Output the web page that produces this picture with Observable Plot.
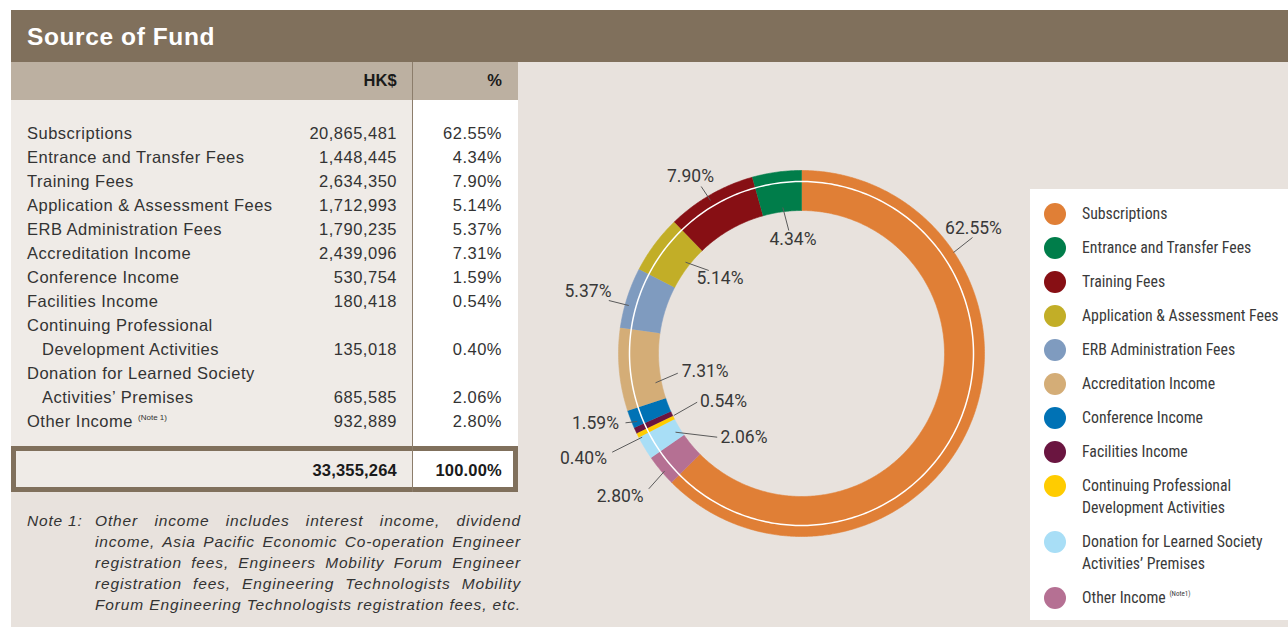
<!DOCTYPE html>
<html><head><meta charset="utf-8">
<script src="https://cdn.jsdelivr.net/npm/d3@7"></script>
<script src="https://cdn.jsdelivr.net/npm/@observablehq/plot@0.6"></script>
<style>
body{margin:0;background:#fff;width:1288px;height:631px;overflow:hidden;position:relative;font-family:"Liberation Sans",Arial,sans-serif;color:#2e2e2e;}
#header{position:absolute;left:11px;top:10px;width:1277px;height:52px;background:#80705C;color:#fff;font-weight:bold;font-size:24.5px;letter-spacing:0.6px;line-height:53px;padding-left:16px;box-sizing:border-box;}
#panel{position:absolute;left:11px;top:62px;width:1277px;height:565px;background:#E8E2DD;}
#subhead{position:absolute;left:11px;top:62px;width:507px;height:38px;background:#BCB0A1;}
#bodyL{position:absolute;left:11px;top:100px;width:401px;height:346px;background:#EFEBE7;}
#bodyR{position:absolute;left:413px;top:100px;width:105px;height:346px;background:#fff;}
#divider{position:absolute;left:412px;top:62px;width:1px;height:430px;background:#8C7D6B;}
#totalbox{position:absolute;left:11px;top:446px;width:507px;height:46px;box-sizing:border-box;border:5px solid #80705C;background:linear-gradient(to right,#EFEBE7 0,#EFEBE7 396px,#8C7D6B 396px,#8C7D6B 397px,#fff 397px);}
.row{position:absolute;left:11px;width:507px;height:24px;line-height:24px;font-size:16.5px;letter-spacing:0.5px;color:#333;}
.row span{position:absolute;white-space:nowrap;}
.row .amt{right:121px;}
.row .pct{right:16px;}
.bold{font-weight:bold;color:#1a1a1a;letter-spacing:0.2px;}
sup.nt{font-size:8px;vertical-align:0;position:relative;top:-7px;letter-spacing:0;}
.note{position:absolute;left:95px;width:426px;height:21px;line-height:21px;font-size:15.5px;font-style:italic;letter-spacing:0.85px;text-align:justify;text-align-last:justify;white-space:nowrap;color:#333;}
#noteLabel{position:absolute;left:27px;line-height:21px;font-size:15.5px;font-style:italic;letter-spacing:0.8px;color:#333;}
#donut{position:absolute;left:551px;top:103px;}
#legend{position:absolute;left:1030px;top:189px;width:258px;height:431px;background:#fff;}
.lg{position:absolute;left:52px;font-family:"Liberation Sans Narrow","Roboto Condensed","Liberation Sans",sans-serif;font-size:15.8px;line-height:22px;color:#3a3a3a;white-space:nowrap;}
.dot{position:absolute;left:14px;width:22px;height:22px;border-radius:50%;}
sup.lnt{font-size:7px;position:relative;top:-7px;vertical-align:0;}
</style></head><body>
<div id="panel"></div>
<div id="header">Source of Fund</div>
<div id="subhead"></div>
<div id="bodyL"></div>
<div id="bodyR"></div>
<div id="totalbox"></div>
<div id="divider"></div>
<div id="tableRows"></div>
<div id="noteLabel">Note 1:</div>
<div id="notes"></div>
<div id="donut"></div>
<div id="legend"></div>
<script>
// ---------- data ----------
const categories = [
  "Subscriptions",
  "Entrance and Transfer Fees",
  "Training Fees",
  "Application & Assessment Fees",
  "ERB Administration Fees",
  "Accreditation Income",
  "Conference Income",
  "Facilities Income",
  "Continuing Professional\nDevelopment Activities",
  "Donation for Learned Society\nActivities’ Premises",
  "Other Income"
];
const amounts = [20865481, 1448445, 2634350, 1712993, 1790235, 2439096, 530754, 180418, 135018, 685585, 932889];
const percentLabels = ["62.55%", "4.34%", "7.90%", "5.14%", "5.37%", "7.31%", "1.59%", "0.54%", "0.40%", "2.06%", "2.80%"];
const colors = ["#E07F36", "#007D4A", "#870F14", "#C2AE27", "#7F9BBF", "#D4AD77", "#0072B5", "#6A1540", "#FFCC00", "#A8DEF6", "#B57093"];
const totalAmountLabel = "33,355,264";
const totalPercentLabel = "100.00%";
const headerLabels = ["HK$", "%"];
const noteIndex = 10;
const noteLines = [
  "Other income includes interest income, dividend",
  "income, Asia Pacific Economic Co-operation Engineer",
  "registration fees, Engineers Mobility Forum Engineer",
  "registration fees, Engineering Technologists Mobility",
  "Forum Engineering Technologists registration fees, etc."
];
// label annotation layout (offsets from donut centre, px): leader [x1,y1,x2,y2], text [x,y]
const labelLayout = [
  {leader: [152, -101, 171, -116], text: [172, -125]},
  {leader: [-18.7, -146, -12.7, -123], text: [-8.5, -114]},
  {leader: [-100.3, -167, -91, -153], text: [-111, -177]},
  {leader: [-116, -91.3, -92.7, -83], text: [-81.5, -75]},
  {leader: [-192.7, -53, -172.7, -48], text: [-213.5, -62]},
  {leader: [-146, 29.3, -123.7, 19.7], text: [-96.3, 18]},
  {leader: [-176, 69.3, -164.3, 68], text: [-206, 70]},
  {leader: [-127.7, 62, -104.3, 48.7], text: [-78, 48]},
  {leader: [-189.3, 98.7, -159.3, 83.7], text: [-218, 104.5]},
  {leader: [-126, 78.7, -84.3, 83.7], text: [-57.5, 83.7]},
  {leader: [-152.7, 135.3, -137, 117.7], text: [-181.3, 142.5]}
];

// ---------- table ----------
const fmt = d3.format(",");
const rowsEl = document.getElementById("tableRows");
let html = "";
html += `<div class="row bold" style="top:68px;height:24px;"><span class="amt">${headerLabels[0]}</span><span class="pct">${headerLabels[1]}</span></div>`;
let cy = 133;
categories.forEach((c, i) => {
  const lines = c.split("\n");
  lines.forEach((ln, k) => {
    const last = k === lines.length - 1;
    const note = (i === noteIndex && last) ? ` <sup class="nt">(Note 1)</sup>` : "";
    html += `<div class="row" style="top:${cy - 12}px"><span style="left:${k ? 31 : 16}px">${ln}${note}</span>` +
      (last ? `<span class="amt">${fmt(amounts[i])}</span><span class="pct">${percentLabels[i]}</span>` : "") + `</div>`;
    cy += 24;
  });
});
html += `<div class="row bold" style="top:458px"><span class="amt">${totalAmountLabel}</span><span class="pct">${totalPercentLabel}</span></div>`;
rowsEl.innerHTML = html;

document.getElementById("notes").innerHTML = noteLines.map((t, k) =>
  `<div class="note" style="top:${509.5 + 21 * k}px">${t}</div>`).join("");
document.getElementById("noteLabel").style.top = "509.5px";

// ---------- donut ----------
const R_OUT = 183, R_IN = 143, R_LINE = 172, HALF = 250;
const total = d3.sum(amounts);
const clockwiseOrder = [0, ...d3.range(categories.length - 1, 0, -1)];
let acc = 0;
const arcs = clockwiseOrder.map(i => {
  const a0 = acc / total * 360; acc += amounts[i]; const a1 = acc / total * 360;
  return {i, a0, a1};
});
const pt = (r, deg) => ({x: r * Math.sin(deg * Math.PI / 180), y: -r * Math.cos(deg * Math.PI / 180)});
const polys = arcs.flatMap(({i, a0, a1}) => {
  const n = Math.max(2, Math.ceil((a1 - a0) / 0.5));
  const outer = d3.range(n + 1).map(k => pt(R_OUT, a0 + (a1 - a0) * k / n));
  const inner = d3.range(n + 1).map(k => pt(R_IN, a1 - (a1 - a0) * k / n));
  return [...outer, ...inner].map(p => ({...p, cat: categories[i]}));
});
const ring = d3.range(0, 361, 1).map(a => pt(R_LINE, a));
const labels = labelLayout.map((L, i) => ({
  x1: L.leader[0], y1: L.leader[1], x2: L.leader[2], y2: L.leader[3],
  tx: L.text[0], ty: L.text[1], label: percentLabels[i]
}));

const chart = Plot.plot({
  width: 2 * HALF, height: 2 * HALF,
  margin: 0,
  style: "background: transparent; overflow: visible;",
  x: {domain: [-HALF, HALF], range: [0, 2 * HALF], axis: null},
  y: {domain: [-HALF, HALF], range: [0, 2 * HALF], axis: null},
  color: {domain: categories, range: colors},
  marks: [
    Plot.line(polys, {x: "x", y: "y", z: "cat", fill: "cat", stroke: "cat", strokeWidth: 0.6}),
    Plot.line(ring, {x: "x", y: "y", stroke: "white", strokeWidth: 1.5}),
    Plot.link(labels, {x1: "x1", y1: "y1", x2: "x2", y2: "y2", stroke: "#5a5a5a", strokeWidth: 1}),
    Plot.text(labels, {x: "tx", y: "ty", text: "label", fontSize: 17.5, fill: "#383838",
      fontFamily: "Roboto, 'Liberation Sans', sans-serif", fontWeight: 400, letterSpacing: "0.4px"})
  ]
});
document.getElementById("donut").appendChild(chart);

// ---------- legend ----------
const lg = document.getElementById("legend");
let ly = 214 - 189;
let lhtml = "";
categories.forEach((c, i) => {
  const lines = c.split("\n");
  const note = i === noteIndex ? ` <sup class="lnt">(Note1)</sup>` : "";
  lhtml += `<div class="dot" style="top:${ly - 11}px;background:${colors[i]}"></div>`;
  lhtml += `<div class="lg" style="top:${ly - 11}px">${lines.join("<br>")}${note}</div>`;
  ly += 34 + 22 * (lines.length - 1);
});
lg.innerHTML = lhtml;
</script>
</body></html>
